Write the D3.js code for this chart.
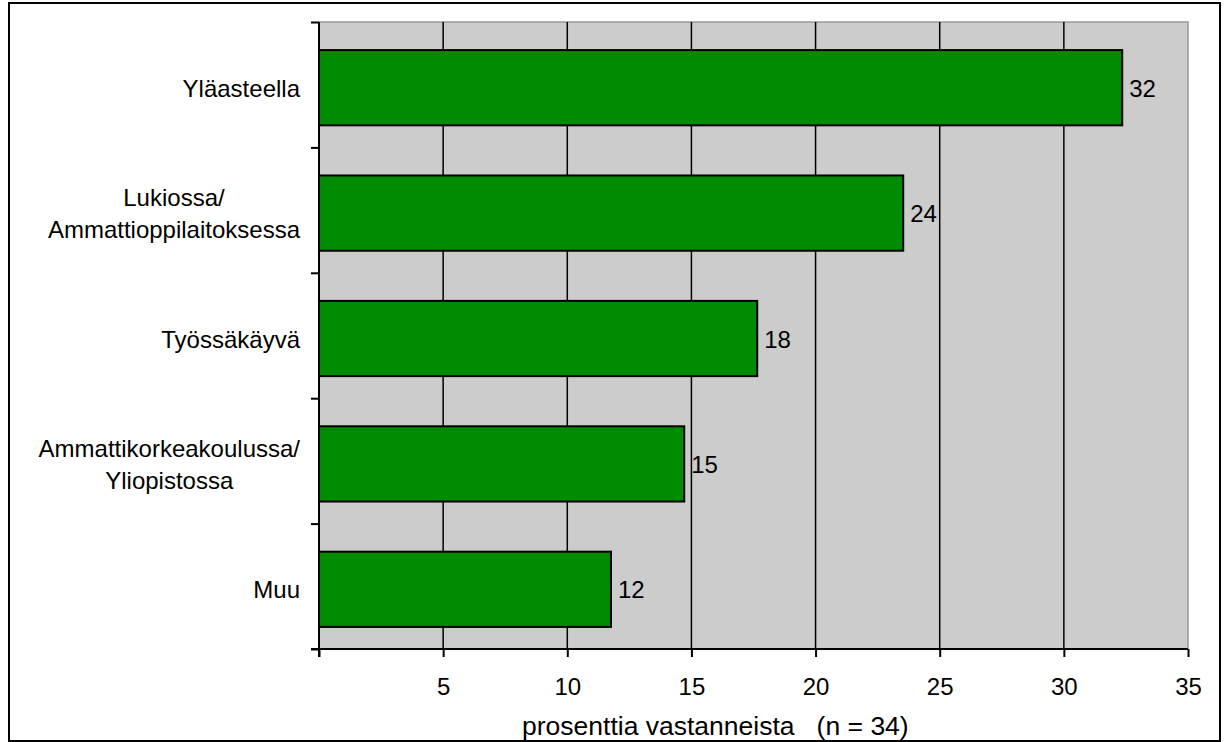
<!DOCTYPE html>
<html>
<head>
<meta charset="utf-8">
<script src="https://cdn.jsdelivr.net/npm/d3@7"></script>
<style>
  body { margin: 0; background: #fff; }
  text { font-family: "Liberation Sans", Arial, sans-serif; font-size: 24px; fill: #000; }
</style>
</head>
<body>
<svg id="chart" width="1228" height="742"></svg>
<script>
var categories = ['Yläasteella', 'Lukiossa/\nAmmattioppilaitoksessa', 'Työssäkäyvä',
                  'Ammattikorkeakoulussa/\nYliopistossa', 'Muu'];
var values = [32.35, 23.53, 17.65, 14.71, 11.76];
var xTicks = [0, 5, 10, 15, 20, 25, 30, 35];
var xTitle = 'prosenttia vastanneista \u00a0\u00a0(n = 34)';

var plotL = 319, plotR = 1188, plotT = 22, plotB = 649;
var svg = d3.select('#chart');

// outer frame
svg.append('rect')
   .attr('x', 9).attr('y', 3)
   .attr('width', 1211).attr('height', 738)
   .attr('fill', 'none').attr('stroke', '#000').attr('stroke-width', 2);

var x = d3.scaleLinear().domain([0, 35]).range([plotL, plotR]);
var y = d3.scaleBand().domain(categories).range([plotT, plotB])
          .paddingInner(0.4).paddingOuter(0.2).align(0.56);

// plot area
svg.append('rect')
   .attr('x', plotL).attr('y', plotT)
   .attr('width', plotR - plotL).attr('height', plotB - plotT)
   .attr('fill', '#cccccc').attr('stroke', '#999').attr('stroke-width', 1.5);

// gridlines
svg.selectAll('.grid')
   .data(xTicks.filter(function(d) { return d > 0 && d < 35; }))
   .enter().append('line')
   .attr('class', 'grid')
   .attr('x1', function(d) { return x(d); })
   .attr('x2', function(d) { return x(d); })
   .attr('y1', plotT).attr('y2', plotB)
   .attr('stroke', '#000').attr('stroke-width', 1.5);

// bars
svg.selectAll('.bar')
   .data(values)
   .enter().append('rect')
   .attr('class', 'bar')
   .attr('x', x(0))
   .attr('y', function(d, i) { return y(categories[i]); })
   .attr('width', function(d) { return x(d) - x(0); })
   .attr('height', y.bandwidth())
   .attr('fill', '#008c00')
   .attr('stroke', '#000').attr('stroke-width', 2);

// value labels
svg.selectAll('.val')
   .data(values)
   .enter().append('text')
   .attr('class', 'val')
   .attr('x', function(d) { return x(d) + 7; })
   .attr('y', function(d, i) { return y(categories[i]) + y.bandwidth() / 2 + 9; })
   .text(function(d) { return Math.round(d); });

// x axis
var xAxis = d3.axisBottom(x).tickValues(xTicks).tickSize(8).tickSizeOuter(0)
              .tickFormat(function(d) { return d === 0 ? '' : d; });
var gx = svg.append('g').attr('transform', 'translate(0,' + plotB + ')').call(xAxis);
gx.attr('font-size', null).attr('font-family', null);
gx.select('.domain').remove();
gx.selectAll('line').attr('stroke', '#000').attr('stroke-width', 2);
gx.selectAll('text').attr('dy', null).attr('y', 46).attr('fill', '#000');
svg.append('line')
   .attr('x1', plotL - 8).attr('x2', plotR)
   .attr('y1', plotB).attr('y2', plotB)
   .attr('stroke', '#000').attr('stroke-width', 2);

// y axis with ticks at category boundaries
var yEdges = d3.scaleLinear().domain([0, categories.length]).range([plotT, plotB]);
var yAxis = d3.axisLeft(yEdges).ticks(categories.length).tickSize(8).tickFormat('');
var gy = svg.append('g').attr('transform', 'translate(' + plotL + ',0)').call(yAxis);
gy.select('.domain').remove();
gy.selectAll('line').attr('stroke', '#000').attr('stroke-width', 2);
svg.append('line')
   .attr('x1', plotL).attr('x2', plotL)
   .attr('y1', plotT).attr('y2', plotB + 8)
   .attr('stroke', '#000').attr('stroke-width', 2);

// category labels: lines centred, block right-aligned
var lineH = 31.5;
categories.forEach(function(c) {
    var lines = c.split('\n');
    var g = svg.append('text').attr('text-anchor', 'middle');
    var cy = y(c) + y.bandwidth() / 2;
    var y0 = cy - (lines.length - 1) * lineH / 2 + 9;
    var spans = lines.map(function(l, i) {
        return g.append('tspan').attr('y', y0 + i * lineH).text(l);
    });
    var maxW = d3.max(spans, function(s) { return s.node().getComputedTextLength(); });
    spans.forEach(function(s) { s.attr('x', 300 - maxW / 2); });
});

// x title
svg.append('text')
   .attr('x', 522).attr('y', 735)
   .style('font-size', '26.5px')
   .text(xTitle);
</script>
</body>
</html>
